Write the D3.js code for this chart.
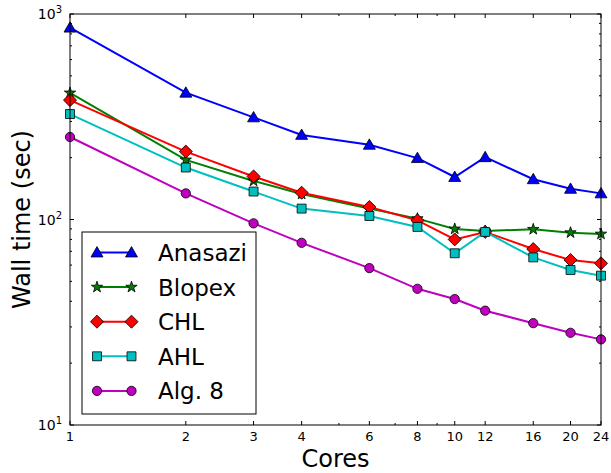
<!DOCTYPE html>
<html>
<head>
<meta charset="utf-8">
<script src="https://cdn.jsdelivr.net/npm/d3@7"></script>
<style>
  body { margin: 0; background: #fff; }
  text { font-family: "DejaVu Sans", sans-serif; }
</style>
</head>
<body>
<script>
// core counts on the x axis
const cores = [1, 2, 3, 4, 6, 8, 10, 12, 16, 20, 24];
const xTickLabels = ["1", "2", "3", "4", "6", "8", "10", "12", "16", "20", "24"];

// wall time in seconds for each solver
const anasazi = [858, 414, 314, 258, 231, 199, 161, 201, 157, 141, 134];
const blopex  = [413, 195, 154, 133, 113, 101, 90, 88, 89.6, 86.3, 85];
const chl     = [381, 214, 162, 135, 115, 99, 80, 87, 71.8, 63.5, 61.2];
const ahl     = [326, 179, 136.8, 113, 104, 92, 68.5, 87, 65.4, 56.8, 53.3];
const alg8    = [252, 134, 95.8, 77, 58, 46, 41, 36, 31.3, 28.1, 26.1];

const seriesNames = ["Anasazi", "Blopex", "CHL", "AHL", "Alg. 8"];
const seriesColors = ["#0000ff", "#008000", "#ff0000", "#00bfbf", "#bf00bf"];
const seriesValues = [anasazi, blopex, chl, ahl, alg8];
const markerTypes = [d3.symbolTriangle, d3.symbolStar, d3.symbolSquare, d3.symbolSquare, d3.symbolCircle];
const markerSizes = [62, 40, 85, 80, 68];

const width = 611, height = 473;
const margin = { left: 70, right: 10, top: 14, bottom: 48 };

const svg = d3.select("body").append("svg")
  .attr("width", width)
  .attr("height", height);

const x = d3.scaleLog().domain([1, 24]).range([margin.left, width - margin.right]);
const y = d3.scaleLog().domain([10, 1000]).range([height - margin.bottom, margin.top]);

const x0 = margin.left, x1 = width - margin.right;
const y0 = height - margin.bottom, y1 = margin.top;

// minor ticks
const yMinor = [];
[10, 100].forEach(b => { for (let k = 2; k <= 9; k++) yMinor.push(b * k); });
const xMinor = [5, 7, 9];

const ticks = svg.append("g").attr("stroke", "#000").attr("stroke-width", 1);
cores.forEach(c => {
  ticks.append("line").attr("x1", x(c)).attr("x2", x(c)).attr("y1", y0).attr("y2", y0 - 4);
  ticks.append("line").attr("x1", x(c)).attr("x2", x(c)).attr("y1", y1).attr("y2", y1 + 4);
});
xMinor.forEach(c => {
  ticks.append("line").attr("x1", x(c)).attr("x2", x(c)).attr("y1", y0).attr("y2", y0 - 2);
  ticks.append("line").attr("x1", x(c)).attr("x2", x(c)).attr("y1", y1).attr("y2", y1 + 2);
});
[10, 100, 1000].forEach(v => {
  ticks.append("line").attr("x1", x0).attr("x2", x0 + 4).attr("y1", y(v)).attr("y2", y(v));
  ticks.append("line").attr("x1", x1).attr("x2", x1 - 4).attr("y1", y(v)).attr("y2", y(v));
});
yMinor.forEach(v => {
  ticks.append("line").attr("x1", x0).attr("x2", x0 + 2).attr("y1", y(v)).attr("y2", y(v));
  ticks.append("line").attr("x1", x1).attr("x2", x1 - 2).attr("y1", y(v)).attr("y2", y(v));
});

// x tick labels
svg.append("g").selectAll("text")
  .data(cores)
  .join("text")
  .attr("x", d => x(d))
  .attr("y", y0 + 16)
  .attr("text-anchor", "middle")
  .attr("font-size", 13)
  .text((d, i) => xTickLabels[i]);

// y tick labels 10^n
[1, 2, 3].forEach(p => {
  const t = svg.append("text")
    .attr("x", x0 - 8)
    .attr("y", y(Math.pow(10, p)) + 5)
    .attr("text-anchor", "end")
    .attr("font-size", 14);
  t.append("tspan").text("10");
  t.append("tspan").attr("dy", -6).attr("font-size", 10).text(p);
});

// lines and markers
const line = d3.line().x((d, i) => x(cores[i])).y(d => y(d));

seriesValues.forEach((vals, s) => {
  svg.append("path")
    .datum(vals)
    .attr("d", line)
    .attr("fill", "none")
    .attr("stroke", seriesColors[s])
    .attr("stroke-width", 2);
});

function drawMarker(g, s, cx, cy) {
  const sym = d3.symbol().type(markerTypes[s]).size(markerSizes[s]);
  let rot = s === 2 ? 45 : 0;
  let dy = s === 0 ? 1 : 0;
  g.append("path")
    .attr("d", sym())
    .attr("transform", `translate(${cx},${cy + dy}) rotate(${rot})`)
    .attr("fill", seriesColors[s])
    .attr("stroke", "#000")
    .attr("stroke-width", 0.8);
}

seriesValues.forEach((vals, s) => {
  const g = svg.append("g");
  vals.forEach((v, i) => drawMarker(g, s, x(cores[i]), y(v)));
});

// frame
svg.append("rect")
  .attr("x", x0).attr("y", y1)
  .attr("width", x1 - x0).attr("height", y0 - y1)
  .attr("fill", "none").attr("stroke", "#000").attr("stroke-width", 1);

// legend
const legend = svg.append("g");
legend.append("rect")
  .attr("x", 82).attr("y", 232)
  .attr("width", 174).attr("height", 182)
  .attr("fill", "#fff").attr("stroke", "#000").attr("stroke-width", 1);

seriesNames.forEach((name, s) => {
  const ly = 252.5 + s * 34.6;
  legend.append("line")
    .attr("x1", 97).attr("x2", 131.5)
    .attr("y1", ly).attr("y2", ly)
    .attr("stroke", seriesColors[s]).attr("stroke-width", 2);
  drawMarker(legend, s, 97, ly);
  drawMarker(legend, s, 131.5, ly);
  legend.append("text")
    .attr("x", 158).attr("y", ly + 8.5)
    .attr("font-size", 23)
    .text(name);
});

// axis titles
svg.append("text")
  .attr("x", (x0 + x1) / 2).attr("y", 467)
  .attr("text-anchor", "middle")
  .attr("font-size", 24)
  .text("Cores");

svg.append("text")
  .attr("transform", `translate(30,${(y0 + y1) / 2}) rotate(-90)`)
  .attr("text-anchor", "middle")
  .attr("font-size", 24)
  .text("Wall time (sec)");
</script>
</body>
</html>
